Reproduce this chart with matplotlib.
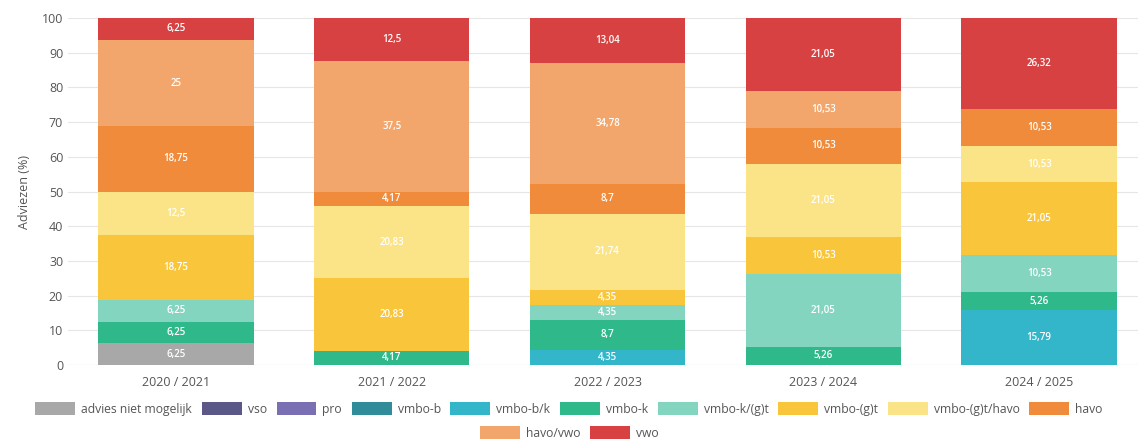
import matplotlib
matplotlib.use("Agg")
import matplotlib.pyplot as plt
import numpy as np

plt.rcParams['font.family'] = ['Open Sans', 'DejaVu Sans']

years = ["2020 / 2021", "2021 / 2022", "2022 / 2023", "2023 / 2024", "2024 / 2025"]
categories = ["advies niet mogelijk", "vso", "pro", "vmbo-b", "vmbo-b/k", "vmbo-k",
              "vmbo-k/(g)t", "vmbo-(g)t", "vmbo-(g)t/havo", "havo", "havo/vwo", "vwo"]

advies_niet_mogelijk = [6.25, 0, 0, 0, 0]
vso = [0, 0, 0, 0, 0]
pro = [0, 0, 0, 0, 0]
vmbo_b = [0, 0, 0, 0, 0]
vmbo_bk = [0, 0, 4.35, 0, 15.79]
vmbo_k = [6.25, 4.17, 8.7, 5.26, 5.26]
vmbo_kgt = [6.25, 0, 4.35, 21.05, 10.53]
vmbo_gt = [18.75, 20.83, 4.35, 10.53, 21.05]
vmbo_gt_havo = [12.5, 20.83, 21.74, 21.05, 10.53]
havo = [18.75, 4.17, 8.7, 10.53, 10.53]
havo_vwo = [25, 37.5, 34.78, 10.53, 0]
vwo = [6.25, 12.5, 13.04, 21.05, 26.32]

series = [advies_niet_mogelijk, vso, pro, vmbo_b, vmbo_bk, vmbo_k, vmbo_kgt,
          vmbo_gt, vmbo_gt_havo, havo, havo_vwo, vwo]
colors = ["#a8a8a8", "#5b5888", "#7b6fb3", "#2f8c98", "#33b6c9", "#2fb98b",
          "#84d5c0", "#f8c53b", "#fbe487", "#ef8b3a", "#f2a66c", "#d84141"]

fig = plt.figure(figsize=(11.38, 4.42), dpi=100)
ax = fig.add_axes([68/1138, 77/442, 1 - 68/1138, 347/442])

x = np.arange(len(years))
bottom = np.zeros(len(years))
handles = []
for name, vals, c in zip(categories, series, colors):
    vals = np.array(vals, dtype=float)
    bars = ax.bar(x, vals, 0.72, bottom=bottom, color=c, label=name, zorder=2)
    handles.append(bars)
    for xi, v, b in zip(x, vals, bottom):
        if v > 0:
            ax.text(xi, b + v / 2, f"{v:g}".replace(".", ","), ha="center", va="center",
                    color="white", fontsize=7, fontweight="semibold", zorder=3)
    bottom += vals

ax.set_xlim(-0.5, 4.458)
ax.set_ylim(0, 100)
ax.set_yticks(np.arange(0, 101, 10))
ax.set_xticks(x)
ax.set_xticklabels(years)
ax.tick_params(axis="both", length=0, colors="#555555", labelsize=9)
ax.tick_params(axis="x", pad=8)
ax.grid(axis="y", color="#e6e6e6", linewidth=0.8, zorder=0)
for s in ax.spines.values():
    s.set_visible(False)
ax.axhline(0, color="#cccccc", linewidth=0.8, zorder=1)
ax.set_ylabel("Adviezen (%)", color="#555555", fontsize=9, labelpad=8)

common = dict(loc="center", frameon=False, fontsize=8.7, handlelength=3.3,
              handleheight=1.2, columnspacing=0.8, handletextpad=0.5,
              labelcolor="#555555")
leg1 = fig.legend(handles[:10], categories[:10], ncol=10,
                  bbox_to_anchor=(0.5, 1 - 409/442), **common)
leg2 = fig.legend(handles[10:], categories[10:], ncol=2,
                  bbox_to_anchor=(0.5, 1 - 433/442), **common)

fig.savefig("out.png", dpi=100)
